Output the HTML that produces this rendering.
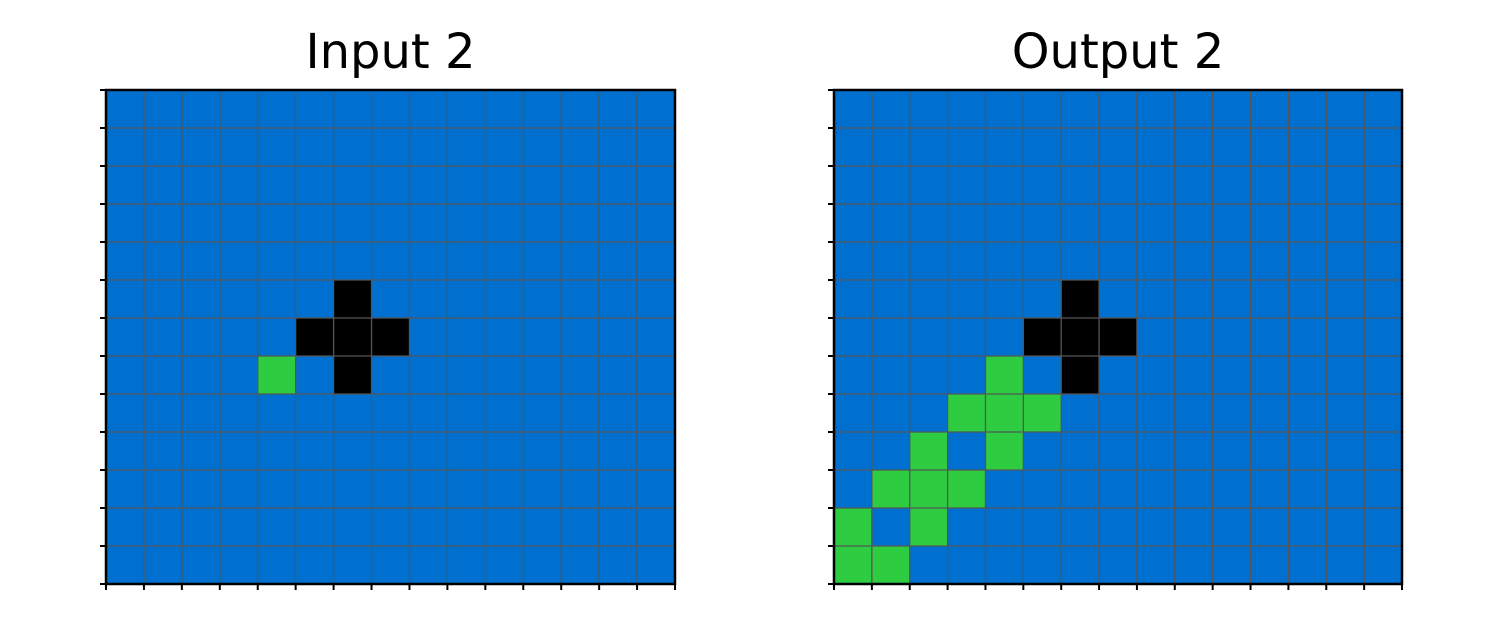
<!DOCTYPE html>
<html><head><meta charset="utf-8"><style>
body{margin:0;background:#fff;}
svg{display:block;}
</style></head><body>
<svg id="c" width="1500" height="629" xmlns="http://www.w3.org/2000/svg"></svg>
<script>
const nRows = 13;
const nCols = 15;
const titles = ["Input 2", "Output 2"];
// 0 = blue, 1 = black, 2 = green; cells listed as [row, col, value]
const inputCells = [[5,6,1],[6,5,1],[6,6,1],[6,7,1],[7,6,1],[7,4,2]];
const outputCells = [[5,6,1],[6,5,1],[6,6,1],[6,7,1],[7,6,1],[7,4,2],
  [8,3,2],[8,4,2],[8,5,2],[9,2,2],[9,4,2],[10,1,2],[10,2,2],[10,3,2],
  [11,0,2],[11,2,2],[12,0,2],[12,1,2]];
const palette = {0:"#0070D0",1:"#000000",2:"#2ECC40"};
const panels = [{x0:106,x1:675,cells:inputCells,name:"input-grid"},{x0:834,x1:1402,cells:outputCells,name:"output-grid"}];
const y0 = 90, y1 = 584;
const NS = "http://www.w3.org/2000/svg";
const svg = document.getElementById('c');
function mk(tag, attrs, parent){const e=document.createElementNS(NS,tag);for(const k in attrs)e.setAttribute(k,attrs[k]);(parent||svg).appendChild(e);return e;}
panels.forEach((p,pi)=>{
  const g = mk('g',{});
  
  
  const cw=(p.x1-p.x0)/nCols, ch=(y1-y0)/nRows;
  const xs=c=>p.x0+c*cw, ys=r=>y0+r*ch;
  const bg = mk('rect',{x:p.x0,y:y0,width:p.x1-p.x0,height:y1-y0,fill:palette[0]},g);
  
  
  p.cells.forEach(([r,c,v])=>{
    const cell = mk('rect',{x:xs(c),y:ys(r),width:cw,height:ch,fill:palette[v]},g);
    
    
  });
  for(let c=1;c<nCols;c++) mk('line',{x1:xs(c),x2:xs(c),y1:y0,y2:y1,stroke:'#555',"stroke-width":1.3},g);
  for(let r=1;r<nRows;r++) mk('line',{x1:p.x0,x2:p.x1,y1:ys(r),y2:ys(r),stroke:'#555',"stroke-width":1.3},g);
  for(let c=0;c<=nCols;c++) mk('line',{x1:xs(c),x2:xs(c),y1:y1,y2:y1+6,stroke:'#000',"stroke-width":2},g);
  for(let r=0;r<=nRows;r++) mk('line',{x1:p.x0-6,x2:p.x0,y1:ys(r),y2:ys(r),stroke:'#000',"stroke-width":2},g);
  mk('rect',{x:p.x0,y:y0,width:p.x1-p.x0,height:y1-y0,fill:'none',stroke:'#000',"stroke-width":2.5},g);
  const t = mk('text',{x:(p.x0+p.x1)/2,y:68,"text-anchor":"middle","font-family":"DejaVu Sans, Liberation Sans, sans-serif","font-size":48,fill:'#000'},g);
  t.textContent = titles[pi];
  
  
});
</script>
</body></html>
